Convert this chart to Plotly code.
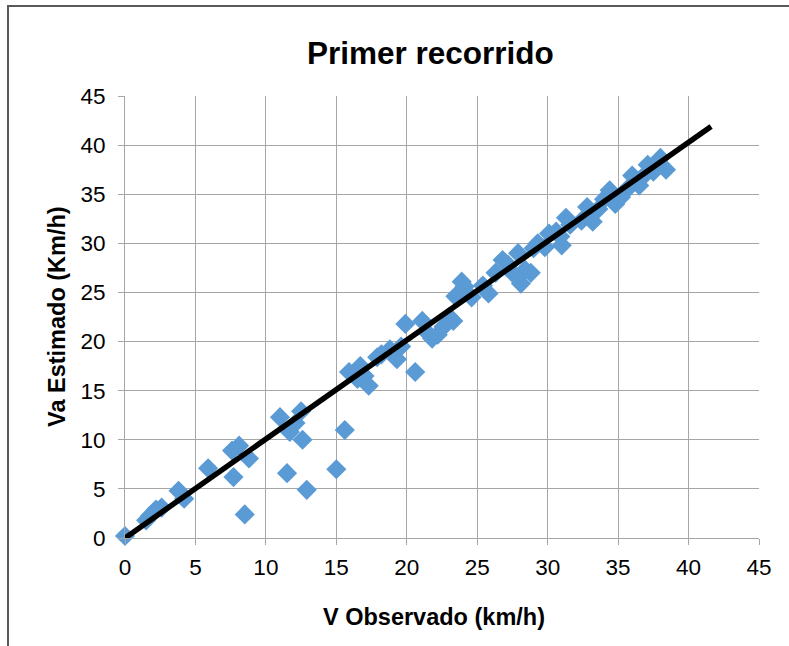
import plotly.graph_objects as go

# Observed vs estimated speed (km/h)
v_observado = [0.0, 1.5, 1.8, 2.2, 2.6, 3.8, 4.2, 5.9, 7.6, 7.7, 8.1, 8.8, 8.5,
               11.0, 11.5, 11.7, 12.1, 12.5, 12.6, 12.9, 15.0, 15.6, 15.9, 16.5,
               16.7, 17.0, 17.3, 17.9, 18.2, 18.8, 19.3, 19.6, 19.9, 20.6, 21.1,
               21.4, 21.8, 22.2, 22.6, 23.0, 23.3, 23.45, 23.9, 24.1, 24.6, 25.4,
               25.8, 26.3, 26.8, 27.2, 27.5, 27.9, 28.1, 28.4, 28.8, 29.0, 29.3,
               29.8, 30.1, 30.6, 30.9, 31.0, 31.3, 31.6, 32.4, 32.8, 33.2, 33.6,
               34.0, 34.4, 34.8, 35.2, 35.7, 36.0, 36.5, 36.7, 37.1, 37.5, 38.0,
               38.4]
va_estimado = [0.2, 1.8, 2.3, 2.9, 3.1, 4.8, 4.0, 7.1, 8.9, 6.2, 9.4, 8.1, 2.4,
               12.3, 6.6, 10.8, 11.7, 12.9, 10.0, 4.9, 7.0, 11.0, 16.9, 16.2,
               17.5, 16.5, 15.5, 18.4, 18.7, 19.2, 18.2, 19.5, 21.8, 16.9, 22.1,
               21.0, 20.3, 20.7, 21.5, 22.5, 22.1, 24.6, 26.1, 25.6, 24.5, 25.7,
               24.9, 27.0, 28.3, 27.8, 27.0, 29.0, 25.9, 27.3, 27.0, 29.5, 30.0,
               29.6, 31.0, 31.2, 30.7, 29.8, 32.6, 31.9, 32.3, 33.7, 32.2, 33.5,
               34.5, 35.4, 34.0, 34.7, 35.6, 36.9, 35.9, 36.7, 38.0, 37.3, 38.7,
               37.5]

# Fitted line end points
linea_x = [0.0, 41.6]
linea_y = [0.0, 41.9]

ticks = [0, 5, 10, 15, 20, 25, 30, 35, 40, 45]

W, H = 789, 646
L, R, T, B = 125, 30, 96, 108
pw, ph = W - L - R, H - T - B
FONT = "Liberation Sans, Arial"

fig = go.Figure()
fig.add_trace(go.Scatter(
    x=v_observado, y=va_estimado, mode="markers",
    marker=dict(symbol="diamond", size=15.5, color="#5B9BD5", line=dict(width=0)),
    showlegend=False, cliponaxis=False,
))
fig.add_trace(go.Scatter(
    x=linea_x, y=linea_y, mode="lines",
    line=dict(color="black", width=5.5),
    showlegend=False, cliponaxis=False,
))

axis_common = dict(
    range=[0, 45], tickvals=ticks, showgrid=True, gridcolor="#A6A6A6", gridwidth=1,
    zeroline=False, showline=True, linecolor="#A6A6A6", linewidth=1,
    ticks="outside", ticklen=6, tickcolor="#A6A6A6",
    tickfont=dict(family=FONT, size=22.5, color="black"),
    fixedrange=True,
)

def px_x(p):
    return (p - L) / pw

def px_y(p):
    return (H - B - p) / ph

fig.update_layout(
    width=W, height=H,
    margin=dict(l=L, r=R, t=T, b=B, pad=0),
    paper_bgcolor="white", plot_bgcolor="white",
    xaxis=dict(axis_common, ticklabelstandoff=3),
    yaxis=dict(axis_common, ticklabelstandoff=8),
    shapes=[dict(
        type="rect", xref="paper", yref="paper",
        x0=px_x(8), x1=px_x(830), y0=px_y(700), y1=px_y(6),
        line=dict(color="#595959", width=2), fillcolor="rgba(0,0,0,0)",
        layer="below",
    )],
    annotations=[
        dict(text="<b>Primer recorrido</b>", xref="paper", yref="paper",
             x=px_x(430), y=px_y(53), xanchor="center", yanchor="middle",
             showarrow=False,
             font=dict(family=FONT, size=31.5, color="black")),
        dict(text="<b>V Observado (km/h)</b>", xref="paper", yref="paper",
             x=px_x(434), y=px_y(617), xanchor="center", yanchor="middle",
             showarrow=False,
             font=dict(family=FONT, size=23.5, color="black")),
        dict(text="<b>Va Estimado (Km/h)</b>", xref="paper", yref="paper",
             x=px_x(57), y=px_y(317), xanchor="center", yanchor="middle",
             showarrow=False, textangle=-90,
             font=dict(family=FONT, size=23.5, color="black")),
    ],
)

fig.write_html("out.html")
